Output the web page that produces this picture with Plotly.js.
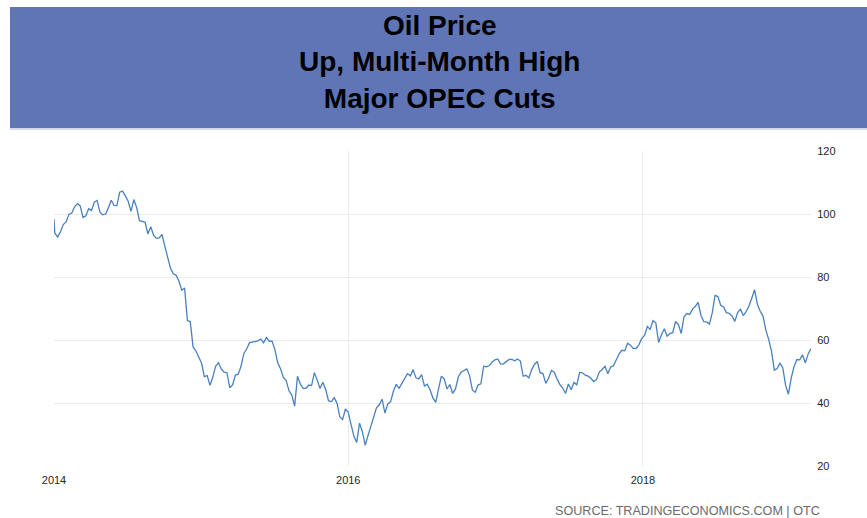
<!DOCTYPE html>
<html>
<head>
<meta charset="utf-8">
<script src="https://cdn.plot.ly/plotly-3.0.1.min.js"></script>
<style>
  html, body { margin: 0; padding: 0; background: #ffffff; }
  #chart { width: 867px; height: 518px; }
</style>
</head>
<body>
<div id="chart"></div>
<script>
// ---- Data (WTI crude, weekly closes) ----
const firstDate = '2014-01-01';
const firstValue = 98.4;
const weeklyStart = '2014-01-03';   // first Friday; one value per week afterwards

const wti2014 = [93.96, 92.72, 94.37, 96.64, 97.49, 99.88, 100.30, 102.20, 103.3, 102.58,
  98.89, 99.46, 101.67, 101.14, 103.74, 104.30, 100.60, 99.76, 99.99, 102.02,
  104.35, 102.71, 102.66, 106.91, 107.26, 105.74, 104.06, 100.83, 104.59, 102.09,
  97.88, 97.65, 97.35, 93.65, 95.96, 93.29, 92.27, 92.41, 93.54, 89.74,
  85.82, 82.75, 81.01, 80.54, 78.65, 75.82, 76.51, 66.15, 65.84, 57.81,
  56.52, 54.73];
const wti2015 = [52.69, 48.36, 48.69, 45.59, 48.24, 51.69, 52.78, 50.81, 49.76, 49.61,
  44.84, 45.72, 48.87, 49.14, 51.64, 55.74, 57.15, 59.15, 59.39, 59.69,
  59.72, 60.30, 59.13, 60.80, 59.61, 59.63, 56.93, 52.74, 50.89, 48.14,
  47.12, 43.87, 42.50, 39.00, 48.50, 46.05, 44.63, 44.68, 45.70, 45.54,
  49.63, 47.26, 44.60, 46.59, 44.29, 40.74, 40.39, 41.71, 39.97, 35.62,
  34.73, 38.10];
const wti2016 = [37.04, 33.16, 29.42, 27.50, 33.62, 30.89, 26.60, 29.64, 32.78, 35.92,
  38.50, 39.44, 41.20, 36.79, 39.72, 40.36, 43.73, 45.92, 44.66, 46.21,
  47.75, 49.33, 48.62, 50.60, 47.98, 47.64, 48.99, 45.41, 45.95, 44.19,
  41.60, 40.20, 44.49, 48.52, 47.64, 44.44, 45.88, 43.03, 44.48, 48.24,
  49.81, 50.35, 50.85, 48.70, 44.07, 43.41, 45.69, 46.06, 51.68, 51.50,
  51.90, 53.02, 53.72];
const wti2017 = [53.99, 52.37, 52.42, 53.17, 53.83, 53.86, 53.40, 53.99, 53.33, 48.49,
  48.78, 47.97, 50.60, 52.24, 53.18, 49.62, 49.33, 46.22, 47.84, 50.33,
  49.80, 47.66, 45.83, 44.74, 43.01, 46.04, 44.23, 46.54, 45.77, 49.71,
  49.58, 48.82, 48.51, 47.87, 46.80, 47.48, 49.89, 50.66, 51.67, 49.29,
  51.45, 51.84, 53.90, 55.64, 56.74, 56.55, 58.95, 58.36, 57.36, 57.30,
  58.47, 60.42];
const wti2018 = [61.44, 64.30, 63.37, 66.14, 65.45, 59.20, 61.68, 63.55, 61.25, 62.04,
  62.34, 65.88, 64.94, 62.06, 67.39, 68.38, 68.10, 69.72, 70.70, 71.90,
  67.88, 65.81, 65.74, 65.06, 68.58, 74.15, 73.80, 71.01, 70.46, 68.69,
  68.49, 67.63, 65.91, 68.72, 69.80, 67.75, 68.99, 70.78, 73.25, 76.00,
  71.34, 69.12, 67.59, 63.14, 60.19, 56.46, 50.42, 50.93, 52.61, 51.20,
  45.59, 42.80];
const wti2019 = [47.96, 51.59, 53.80, 53.69, 55.26, 52.72, 55.59, 57.26];

// ---- Axis ticks ----
const xTickVals = ['2014-01-01', '2016-01-01', '2018-01-01'];
const xTickText = ['2014', '2016', '2018'];
const yTickVals = [20, 40, 60, 80, 100, 120];
const xRange = ['2014-01-01', '2019-02-22'];
const yRange = [20, 120];

// ---- Text ----
const titleLines = ['Oil Price', 'Up, Multi-Month High', 'Major OPEC Cuts'];
const sourceText = 'SOURCE: TRADINGECONOMICS.COM | OTC';

// ---- Build the series ----
const weeklyValues = [].concat(wti2014, wti2015, wti2016, wti2017, wti2018, wti2019);
const xs = [firstDate];
const ys = [firstValue];
const start = new Date(weeklyStart + 'T00:00:00Z');
weeklyValues.forEach(function (v, i) {
  const d = new Date(start.getTime() + i * 7 * 86400000);
  xs.push(d.toISOString().slice(0, 10));
  ys.push(v);
});

const trace = {
  type: 'scatter',
  mode: 'lines',
  x: xs,
  y: ys,
  line: { color: '#4a80bd', width: 1.3 },
  hoverinfo: 'x+y',
  showlegend: false
};

const layout = {
  width: 867,
  height: 518,
  margin: { l: 54, r: 56, t: 151, b: 52, pad: 0 },
  paper_bgcolor: '#ffffff',
  plot_bgcolor: '#ffffff',
  font: { family: 'Liberation Sans, Arial, sans-serif', color: '#333333', size: 11 },
  xaxis: {
    type: 'date',
    range: xRange,
    tickvals: xTickVals,
    ticktext: xTickText,
    showgrid: true,
    gridcolor: '#ececec',
    gridwidth: 1,
    zeroline: false,
    showline: false,
    ticks: 'outside',
    ticklen: 4,
    tickcolor: 'rgba(0,0,0,0)',
    tickfont: { size: 11, color: '#262626' },
    fixedrange: true
  },
  yaxis: {
    range: yRange,
    side: 'right',
    tickvals: yTickVals,
    showgrid: true,
    gridcolor: '#ececec',
    gridwidth: 1,
    zeroline: false,
    showline: false,
    ticks: 'outside',
    ticklen: 3,
    tickcolor: 'rgba(0,0,0,0)',
    tickfont: { size: 11, color: '#262626' },
    fixedrange: true
  },
  shapes: [
    {
      type: 'rect', xref: 'paper', yref: 'paper', layer: 'below',
      x0: (10 - 54) / 757, x1: (867 - 54) / 757,
      y0: (466 - 128) / 315, y1: (466 - 7) / 315,
      fillcolor: '#5f75b6', line: { width: 0 }
    },
    {
      type: 'rect', xref: 'paper', yref: 'paper', layer: 'below',
      x0: (10 - 54) / 757, x1: (867 - 54) / 757,
      y0: (466 - 130) / 315, y1: (466 - 128) / 315,
      fillcolor: '#d5d9ea', line: { width: 0 }
    }
  ],
  annotations: [
    {
      text: '<b>' + titleLines.join('<br>') + '</b>',
      xref: 'paper', yref: 'paper',
      x: (440 - 54) / 757, y: (466 - 62) / 315,
      xanchor: 'center', yanchor: 'middle',
      showarrow: false,
      align: 'center',
      font: { family: 'Liberation Sans, Arial, sans-serif', size: 28, color: '#000000' }
    },
    {
      text: sourceText,
      xref: 'paper', yref: 'paper',
      x: (822 - 54) / 757, y: (466 - 511) / 315,
      xanchor: 'right', yanchor: 'middle',
      showarrow: false,
      font: { family: 'Liberation Sans, Arial, sans-serif', size: 12.6, color: '#6b6b6b' }
    }
  ]
};

Plotly.newPlot('chart', [trace], layout, { displayModeBar: false, staticPlot: true });
</script>
</body>
</html>
